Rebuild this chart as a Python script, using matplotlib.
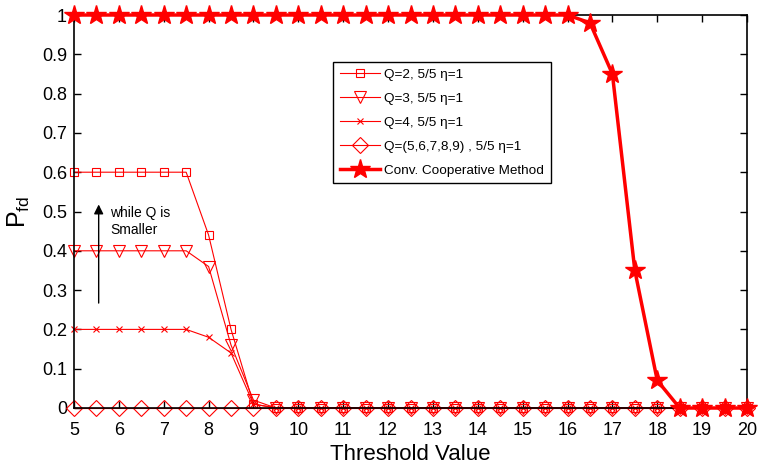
import numpy as np
import matplotlib
matplotlib.use("Agg")
import matplotlib.pyplot as plt

plt.rcParams['font.family'] = ['Liberation Sans', 'DejaVu Sans']
plt.rcParams['mathtext.fontset'] = 'custom'
plt.rcParams['mathtext.rm'] = 'Liberation Sans'
plt.rcParams['mathtext.it'] = 'Liberation Sans:italic'

threshold = [5, 5.5, 6, 6.5, 7, 7.5, 8, 8.5, 9, 9.5, 10, 10.5, 11, 11.5, 12, 12.5, 13, 13.5,
             14, 14.5, 15, 15.5, 16, 16.5, 17, 17.5, 18, 18.5, 19, 19.5, 20]
q2 = [0.6, 0.6, 0.6, 0.6, 0.6, 0.6, 0.44, 0.2, 0.01] + [0] * 22
q3 = [0.4, 0.4, 0.4, 0.4, 0.4, 0.4, 0.36, 0.16, 0.02] + [0] * 22
q4 = [0.2, 0.2, 0.2, 0.2, 0.2, 0.2, 0.18, 0.14, 0.01] + [0] * 22
q5to9 = [0] * 31
conv = [1] * 23 + [0.98, 0.85, 0.35, 0.07, 0, 0, 0, 0]

labels = ['Q=2, 5/5 \u03b7=1', 'Q=3, 5/5 \u03b7=1', 'Q=4, 5/5 \u03b7=1',
          'Q=(5,6,7,8,9) , 5/5 \u03b7=1', 'Conv. Cooperative Method']

fig = plt.figure(figsize=(7.62, 4.68), dpi=100)
ax = fig.add_axes([74/762, 1 - 408/468, (747-74)/762, (408-15)/468])

red = '#ff0000'
ax.plot(threshold, q2, color=red, lw=0.8, marker='s', ms=6, mfc='none', mec=red, mew=0.8, label=labels[0], clip_on=False)
ax.plot(threshold, q3, color=red, lw=0.8, marker='v', ms=8, mfc='none', mec=red, mew=0.8, label=labels[1], clip_on=False)
ax.plot(threshold, q4, color=red, lw=0.8, marker='x', ms=5, mfc='none', mec=red, mew=0.8, label=labels[2], clip_on=False)
ax.plot(threshold, q5to9, color=red, lw=0.8, marker='D', ms=8, mfc='none', mec=red, mew=0.8, label=labels[3], clip_on=False)
ax.plot(threshold, conv, color=red, lw=2.5, marker='*', ms=15, mfc=red, mec=red, label=labels[4], clip_on=False, zorder=5)

ax.set_xlim(5, 20)
ax.set_ylim(0, 1)
ax.set_xticks(np.arange(5, 21, 1))
ax.set_yticks(np.round(np.arange(0, 1.01, 0.1), 1))
ax.set_yticklabels(['0', '0.1', '0.2', '0.3', '0.4', '0.5', '0.6', '0.7', '0.8', '0.9', '1'])
ax.tick_params(direction='in', top=True, right=True, labelsize=13, length=5, width=1)
ax.tick_params(axis='x', pad=10)
ax.tick_params(axis='y', pad=5)
for s in ax.spines.values():
    s.set_linewidth(1.2)

ax.set_xlabel('Threshold Value', fontsize=16, labelpad=4)
ax.set_ylabel(r'$\mathregular{P_{fd}}$', fontsize=18, labelpad=7)

ax.annotate('', xy=(5.55, 0.525), xytext=(5.55, 0.26),
            arrowprops=dict(arrowstyle='-|>', color='black', lw=1.0, mutation_scale=14))
ax.text(5.8, 0.475, 'while Q is\nSmaller', fontsize=10, va='center', ha='left', linespacing=1.3)

leg = ax.legend(loc='upper left', bbox_to_anchor=((333-74)/673, (408-62)/393), fontsize=9.7,
                frameon=True, fancybox=False, edgecolor='black', framealpha=1,
                handlelength=3.0, borderpad=0.5, labelspacing=0.85, handletextpad=0.3,
                borderaxespad=0)
leg.get_frame().set_linewidth(1.0)

fig.savefig('out.png', dpi=100)
